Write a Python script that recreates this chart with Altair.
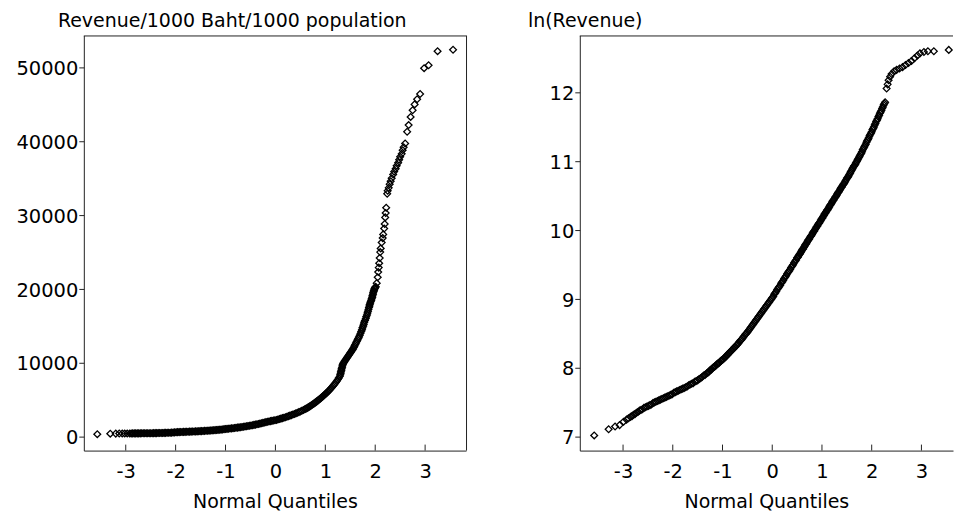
import altair as alt
import pandas as pd

FONT = "DejaVu Sans"
INK = "#000000"
FRAME = "#222222"

quantile_ticks = [-3, -2, -1, 0, 1, 2, 3]
revenue_ticks = [0, 10000, 20000, 30000, 40000, 50000]
log_ticks = [7, 8, 9, 10, 11, 12]

# ---------------- Revenue/1000 Baht/1000 population ----------------
rev_low_q = [-3.57, -3.31, -3.20, -3.13, -3.07, -3.02, -2.97]
rev_low_v = [350, 420, 430, 440, 445, 448, 450]

rev_flat_q = [
    -2.92, -2.89, -2.86, -2.83, -2.80, -2.77, -2.74, -2.71, -2.68, -2.65,
    -2.62, -2.59, -2.56, -2.53, -2.50, -2.47, -2.44, -2.41, -2.38, -2.35,
    -2.32, -2.29, -2.26, -2.23, -2.20, -2.17, -2.14, -2.11, -2.08, -2.05,
    -2.02, -1.99, -1.96, -1.93, -1.90, -1.87, -1.84, -1.81, -1.78, -1.75,
    -1.72, -1.69, -1.66, -1.63, -1.60, -1.57, -1.54, -1.51, -1.48, -1.45,
    -1.42, -1.39, -1.36, -1.33, -1.30, -1.27, -1.24, -1.21, -1.18, -1.15,
    -1.12, -1.09, -1.06, -1.03, -1.00, -0.97, -0.94, -0.91, -0.88, -0.85,
    -0.82, -0.79, -0.76, -0.73, -0.70, -0.67, -0.64, -0.61, -0.58, -0.55,
    -0.52, -0.49, -0.46, -0.43, -0.40, -0.37, -0.34, -0.31, -0.28, -0.25,
    -0.22, -0.19, -0.16, -0.13, -0.10, -0.07, -0.04, -0.01, 0.02, 0.05,
    0.08, 0.11, 0.14, 0.17, 0.20, 0.23, 0.26, 0.29, 0.32, 0.35,
    0.38, 0.41, 0.44, 0.47, 0.50, 0.53, 0.56, 0.59,
]
rev_flat_v = [
    450, 452, 455, 458, 460, 462, 464, 466, 468, 470,
    472, 474, 476, 478, 480, 484, 488, 492, 497, 502,
    507, 512, 518, 524, 530, 537, 545, 553, 562, 572,
    590, 620, 628, 636, 644, 652, 660, 668, 676, 684,
    692, 700, 709, 718, 727, 737, 748, 760, 772, 785,
    798, 812, 826, 840, 855, 870, 886, 902, 918, 935,
    953, 972, 991, 1030, 1050, 1072, 1094, 1117, 1140, 1164,
    1188, 1213, 1240, 1268, 1297, 1327, 1358, 1390, 1423, 1457,
    1492, 1530, 1570, 1610, 1652, 1695, 1740, 1786, 1833, 1881,
    1930, 1980, 2030, 2075, 2120, 2160, 2195, 2230, 2280, 2340,
    2400, 2460, 2520, 2585, 2650, 2720, 2790, 2860, 2935, 3010,
    3090, 3170, 3255, 3340, 3430, 3525, 3620, 3720,
]

rev_bend_q = [
    0.61, 0.63, 0.65, 0.67, 0.69, 0.71, 0.73, 0.75, 0.77, 0.79,
    0.81, 0.83, 0.85, 0.87, 0.89, 0.91, 0.93, 0.95, 0.97, 0.99,
    1.01, 1.03, 1.05, 1.07, 1.09, 1.11, 1.13, 1.15, 1.17, 1.19,
    1.21, 1.23, 1.25, 1.27, 1.29,
]
rev_bend_v = [
    3790, 3870, 3950, 4035, 4120, 4210, 4300, 4395, 4490, 4590,
    4690, 4795, 4900, 5010, 5120, 5235, 5350, 5470, 5590, 5715,
    5840, 5970, 6100, 6240, 6380, 6530, 6680, 6840, 7000, 7170,
    7350, 7540, 7740, 7950, 8180,
]

rev_steep_q = [
    1.300, 1.307, 1.314, 1.321, 1.328, 1.335, 1.342, 1.350,
    1.36, 1.375, 1.39, 1.405, 1.42, 1.435, 1.45, 1.465, 1.48, 1.495,
    1.51, 1.525, 1.54, 1.555, 1.57, 1.585, 1.60, 1.615, 1.63, 1.645,
    1.66, 1.675, 1.69, 1.705, 1.72, 1.735, 1.745, 1.76, 1.77, 1.78,
    1.795, 1.81, 1.82, 1.835, 1.845, 1.855, 1.865, 1.875, 1.885, 1.89,
    1.90, 1.91, 1.92, 1.93, 1.94, 1.945, 1.955, 1.96, 1.97, 1.975,
    1.985, 1.99, 2.00, 2.01,
]
rev_steep_v = [
    8400, 8600, 8800, 9000, 9200, 9400, 9600, 9800,
    9950, 10100, 10250, 10400, 10550, 10700, 10850, 11000, 11150, 11300,
    11450, 11600, 11750, 11900, 12100, 12300, 12500, 12700, 12900, 13100,
    13300, 13500, 13750, 14000, 14250, 14500, 14750, 15000, 15250, 15500,
    15750, 16000, 16250, 16500, 16750, 17000, 17250, 17500, 17700, 17900,
    18100, 18300, 18500, 18700, 18900, 19100, 19300, 19500, 19700, 19850,
    20000, 20100, 20200, 20300,
]

rev_high_q = [
    2.03, 2.05, 2.06, 2.07, 2.08, 2.09, 2.10, 2.11, 2.13, 2.15,
    2.16, 2.18, 2.19, 2.20, 2.21, 2.22, 2.24, 2.25, 2.27, 2.29,
    2.31, 2.33, 2.36, 2.38, 2.41, 2.43, 2.46, 2.48, 2.50, 2.53,
    2.55, 2.57, 2.60, 2.64, 2.67, 2.71, 2.75, 2.79, 2.84, 2.90,
    2.98, 3.07, 3.25, 3.56,
]
rev_high_v = [
    20800, 21600, 22300, 22900, 23500, 24200, 25000, 25500, 26300, 26900,
    27400, 28200, 28800, 29700, 30300, 31000, 32900, 33300, 33700, 34200,
    34600, 35000, 35500, 35900, 36300, 36700, 37100, 37500, 37900, 38300,
    38800, 39200, 39700, 41300, 42200, 43300, 44200, 45000, 45700, 46400,
    49900, 50300, 52200, 52400,
]

# ---------------- ln(Revenue) ----------------
ln_low_tail_q = [-3.58, -3.29, -3.16, -3.07, -2.99, -2.93, -2.89]
ln_low_tail_v = [7.02, 7.11, 7.15, 7.17, 7.22, 7.25, 7.27]

ln_low_q = [
    -2.85, -2.82, -2.79, -2.76, -2.73, -2.70, -2.67, -2.64, -2.61, -2.58,
    -2.55, -2.52, -2.49, -2.46, -2.43, -2.40, -2.37, -2.34, -2.31, -2.28,
    -2.25, -2.22, -2.19, -2.16, -2.13, -2.10, -2.07, -2.04, -2.01, -1.98,
    -1.95, -1.92, -1.89, -1.86, -1.83, -1.80, -1.77, -1.74, -1.71, -1.68,
    -1.65, -1.62, -1.59, -1.56, -1.53, -1.50, -1.47, -1.44, -1.41, -1.38,
    -1.35, -1.32,
]
ln_low_v = [
    7.29, 7.30, 7.32, 7.33, 7.35, 7.36, 7.38, 7.39, 7.40, 7.42,
    7.43, 7.44, 7.45, 7.46, 7.47, 7.49, 7.50, 7.51, 7.52, 7.53,
    7.54, 7.55, 7.56, 7.57, 7.58, 7.59, 7.60, 7.61, 7.62, 7.64,
    7.65, 7.66, 7.67, 7.68, 7.69, 7.70, 7.71, 7.72, 7.73, 7.75,
    7.76, 7.77, 7.78, 7.80, 7.81, 7.82, 7.84, 7.85, 7.87, 7.89,
    7.90, 7.92,
]

ln_mid_q = [
    -1.30, -1.28, -1.26, -1.24, -1.22, -1.20, -1.18, -1.16, -1.14, -1.12,
    -1.10, -1.08, -1.06, -1.04, -1.02, -1.00, -0.98, -0.96, -0.94, -0.92,
    -0.90, -0.88, -0.86, -0.84, -0.82, -0.80, -0.78, -0.76, -0.74, -0.72,
    -0.70, -0.68, -0.66, -0.64, -0.62, -0.60, -0.58, -0.56, -0.54, -0.52,
    -0.50, -0.48, -0.46, -0.44, -0.42, -0.40, -0.38, -0.36, -0.34, -0.32,
    -0.30, -0.28, -0.26, -0.24, -0.22, -0.20, -0.18, -0.16, -0.14, -0.12,
    -0.10, -0.08, -0.06, -0.04, -0.02, 0.00, 0.02, 0.04, 0.06, 0.08,
    0.10, 0.12, 0.14, 0.16, 0.18, 0.20, 0.22, 0.24, 0.26, 0.28,
    0.30, 0.32, 0.34, 0.36, 0.38, 0.40, 0.42, 0.44, 0.46, 0.48,
    0.50,
]
ln_mid_v = [
    7.93, 7.94, 7.96, 7.97, 7.98, 8.00, 8.01, 8.02, 8.03, 8.05,
    8.06, 8.07, 8.08, 8.10, 8.11, 8.12, 8.13, 8.15, 8.16, 8.18,
    8.19, 8.21, 8.22, 8.24, 8.25, 8.27, 8.28, 8.30, 8.31, 8.33,
    8.34, 8.36, 8.38, 8.40, 8.41, 8.43, 8.45, 8.47, 8.49, 8.50,
    8.52, 8.54, 8.56, 8.58, 8.60, 8.62, 8.64, 8.66, 8.68, 8.70,
    8.72, 8.74, 8.76, 8.78, 8.80, 8.82, 8.84, 8.86, 8.88, 8.90,
    8.92, 8.94, 8.96, 8.98, 9.00, 9.02, 9.04, 9.07, 9.09, 9.11,
    9.14, 9.16, 9.18, 9.20, 9.23, 9.25, 9.27, 9.30, 9.32, 9.34,
    9.37, 9.39, 9.41, 9.43, 9.46, 9.48, 9.50, 9.53, 9.55, 9.57,
    9.60,
]

ln_up_q = [
    0.515, 0.530, 0.545, 0.560, 0.575, 0.590, 0.605, 0.620, 0.635, 0.650,
    0.665, 0.680, 0.695, 0.710, 0.725, 0.740, 0.755, 0.770, 0.785, 0.800,
    0.815, 0.830, 0.845, 0.860, 0.875, 0.890, 0.905, 0.920, 0.935, 0.950,
    0.965, 0.980, 0.995, 1.010, 1.025, 1.040, 1.055, 1.070, 1.085, 1.100,
    1.115, 1.130, 1.145, 1.160, 1.175, 1.190, 1.205, 1.220, 1.235, 1.250,
    1.265, 1.280, 1.295, 1.310, 1.325, 1.340, 1.355, 1.370, 1.385, 1.400,
    1.415, 1.430, 1.445, 1.460, 1.475, 1.490, 1.505, 1.520, 1.535, 1.550,
    1.565, 1.580, 1.595, 1.610, 1.625, 1.640, 1.655, 1.670, 1.685, 1.700,
    1.715, 1.730, 1.745, 1.760, 1.775, 1.790, 1.805, 1.820, 1.835, 1.850,
    1.865, 1.880, 1.895, 1.910, 1.925, 1.940, 1.955, 1.970, 1.985, 2.000,
    2.015, 2.030, 2.045, 2.060, 2.075, 2.090, 2.105, 2.120, 2.135, 2.150,
    2.165, 2.180, 2.195, 2.210, 2.225, 2.240, 2.255, 2.270,
]
ln_up_v = [
    9.61, 9.63, 9.65, 9.66, 9.68, 9.70, 9.72, 9.73, 9.75, 9.77,
    9.79, 9.80, 9.82, 9.84, 9.86, 9.87, 9.89, 9.91, 9.92, 9.94,
    9.96, 9.98, 9.99, 10.01, 10.03, 10.05, 10.06, 10.08, 10.10, 10.11,
    10.13, 10.15, 10.17, 10.18, 10.20, 10.22, 10.24, 10.25, 10.27, 10.29,
    10.30, 10.32, 10.34, 10.36, 10.37, 10.39, 10.41, 10.43, 10.44, 10.46,
    10.48, 10.49, 10.51, 10.53, 10.55, 10.56, 10.58, 10.60, 10.62, 10.63,
    10.65, 10.67, 10.68, 10.70, 10.72, 10.74, 10.76, 10.77, 10.79, 10.81,
    10.83, 10.85, 10.87, 10.89, 10.91, 10.93, 10.94, 10.96, 10.98, 11.00,
    11.02, 11.04, 11.06, 11.08, 11.10, 11.12, 11.14, 11.17, 11.19, 11.21,
    11.23, 11.25, 11.28, 11.30, 11.32, 11.34, 11.37, 11.39, 11.41, 11.43,
    11.46, 11.48, 11.50, 11.53, 11.55, 11.58, 11.60, 11.62, 11.65, 11.67,
    11.70, 11.72, 11.74, 11.77, 11.79, 11.82, 11.84, 11.86,
]

ln_high_q = [2.30, 2.32, 2.34, 2.37, 2.40, 2.45, 2.50, 2.56, 2.62, 2.68,
             2.74, 2.80, 2.86, 2.92, 2.97, 3.05, 3.13, 3.25, 3.55]
ln_high_v = [12.06, 12.12, 12.18, 12.23, 12.27, 12.31, 12.33, 12.35, 12.37, 12.40,
             12.43, 12.46, 12.50, 12.54, 12.57, 12.59, 12.60, 12.60, 12.62]


def frame_points(qs, vs):
    q_all, v_all = [], []
    for q, v in zip(qs, vs):
        assert len(q) == len(v)
        q_all += q
        v_all += v
    return pd.DataFrame({"q": q_all, "v": v_all})


rev_df = frame_points(
    [rev_low_q, rev_flat_q, rev_bend_q, rev_steep_q, rev_high_q],
    [rev_low_v, rev_flat_v, rev_bend_v, rev_steep_v, rev_high_v],
)
ln_df = frame_points(
    [ln_low_tail_q, ln_low_q, ln_mid_q, ln_up_q, ln_high_q],
    [ln_low_tail_v, ln_low_v, ln_mid_v, ln_up_v, ln_high_v],
)

PLOT_H = 416


def qq_panel(df, title, title_dx, x_domain, y_domain, y_values, width, right_edge):
    x_enc = alt.X(
        "q:Q",
        title="Normal Quantiles",
        scale=alt.Scale(domain=x_domain, nice=False, zero=False),
        axis=alt.Axis(
            values=quantile_ticks, labelExpr="'' + datum.value",
            ticks=False, tickSize=0, labelPadding=12,
            labelFont=FONT, labelFontSize=19.5, labelColor=INK,
            labelFlush=False, labelOverlap=False,
            titleFont=FONT, titleFontSize=19, titleFontWeight="normal",
            titleColor=INK, titlePadding=11.5,
            domainColor=FRAME, domainWidth=1, grid=False,
        ),
    )
    y_enc = alt.Y(
        "v:Q",
        title=None,
        scale=alt.Scale(domain=y_domain, nice=False, zero=False),
        axis=alt.Axis(
            values=y_values, labelExpr="'' + datum.value",
            tickSize=5, tickColor=FRAME, tickWidth=1, labelPadding=1,
            labelFont=FONT, labelFontSize=19.5, labelColor=INK,
            labelFlush=False, labelOverlap=False, labelOffset=1,
            domainColor=FRAME, domainWidth=1, grid=False,
        ),
    )
    points = alt.Chart(df).mark_point(
        shape="diamond", filled=False, size=46, strokeWidth=1.3,
        color=INK, opacity=1,
    ).encode(x=x_enc, y=y_enc)

    # quantile ticks point inward from the bottom edge
    inner_ticks = alt.Chart(pd.DataFrame({"q": quantile_ticks})).mark_rule(
        color=FRAME, strokeWidth=1
    ).encode(x=x_enc, y=alt.value(PLOT_H), y2=alt.value(PLOT_H - 6))

    edge = pd.DataFrame({"k": [0]})
    top_edge = alt.Chart(edge).mark_rule(color=FRAME, strokeWidth=1).encode(
        x=alt.value(0), x2=alt.value("width"), y=alt.value(0.5)
    )
    layers = [points, inner_ticks, top_edge]
    if right_edge:
        layers.append(
            alt.Chart(edge).mark_rule(color=FRAME, strokeWidth=1).encode(
                x=alt.value(width + 0.5), y=alt.value(0), y2=alt.value("height")
            )
        )
    return alt.layer(*layers).properties(
        width=width,
        height=PLOT_H,
        title=alt.TitleParams(
            text=title, anchor="start", frame="group", dx=title_dx,
            offset=-11, baseline="alphabetic", font=FONT, fontSize=19,
            fontWeight="normal", color=INK,
        ),
    )


left = qq_panel(rev_df, "Revenue/1000 Baht/1000 population", -26,
                [-3.84, 3.82], [-1870, 54330], revenue_ticks, 383, True)
right = qq_panel(ln_df, "ln(Revenue)", -52,
                 [-3.87, 3.635], [6.80, 12.83], log_ticks, 374, False)

chart = (
    alt.hconcat(left, right, spacing=61)
    .properties(padding={"left": 15, "top": 11, "right": 0, "bottom": 0},
                background="white")
    .configure_view(stroke=None)
)

chart.save("out.html", embed_options={"renderer": "svg", "actions": False})
